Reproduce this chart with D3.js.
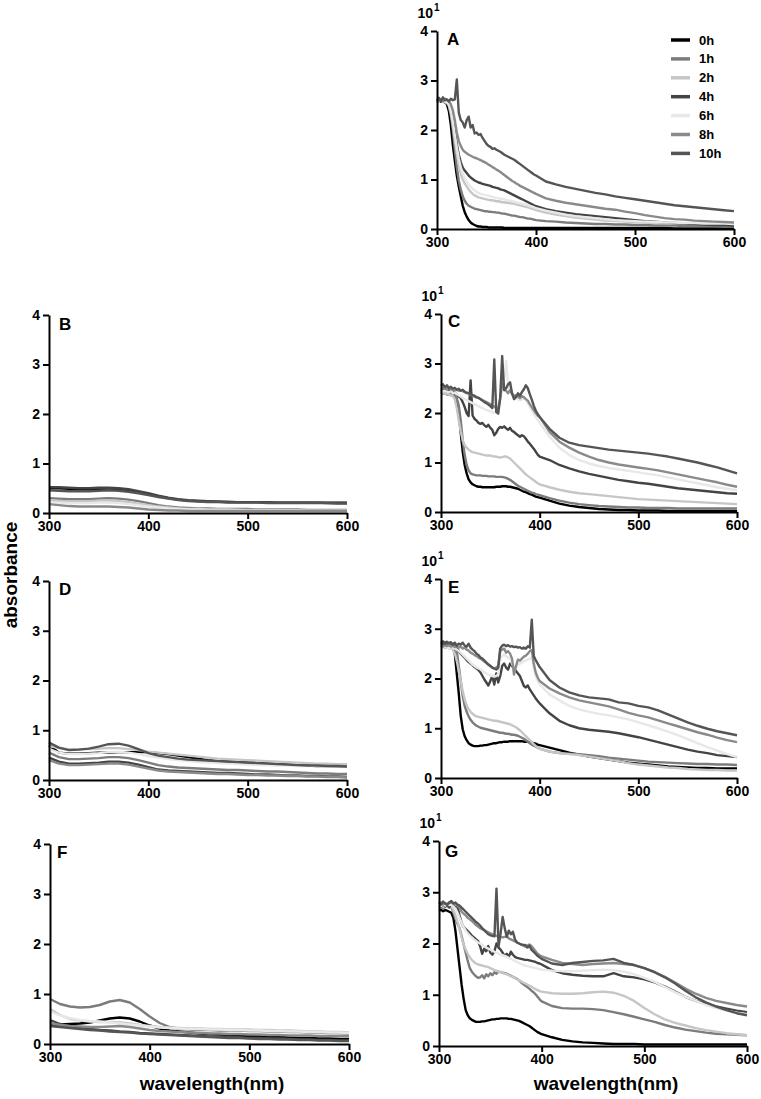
<!DOCTYPE html>
<html>
<head>
<meta charset="utf-8">
<script src="https://cdn.jsdelivr.net/npm/d3@7"></script>
<style>
  html, body { margin: 0; padding: 0; background: #fff; }
  svg { display: block; }
  text { font-family: "Liberation Sans", Arial, sans-serif; font-weight: bold; fill: #000; }
</style>
</head>
<body>
<svg id="chart" width="761" height="1099"></svg>
<script>
// ---------------- DATA ----------------
const seriesNames = ["0h", "1h", "2h", "4h", "6h", "8h", "10h"];
const xTicks = [300, 400, 500, 600];
const yTicks = [0, 1, 2, 3, 4];
const exponentLabel = "10";
const exponentSup = "1";
const xAxisTitle = "wavelength(nm)";
const yAxisTitle = "absorbance";

// wavelength grid for the noisy panels (A, C, E, G)
const waveFine = [
300,302,304,306,308,310,312,314,316,318,
320,322,324,326,328,330,332,334,336,338,
340,342,344,346,348,350,352,354,356,358,
360,362,364,366,368,370,372,374,376,378,
380,382,384,386,388,390,392,394,396,398,
400,
410,420,430,440,450,460,470,480,490,500,
510,520,530,540,550,560,570,580,590,600];

// wavelength grid for the smooth panels (B, D, F)
const waveCoarse = [300,310,320,330,340,350,360,370,380,390,400,410,420,430,440,450,
460,470,480,490,500,510,520,530,540,550,560,570,580,590,600];

// ---- Panel A (x10) ----
const A_0h = [
2.58,2.60,2.57,2.59,2.56,2.52,2.38,2.10,1.70,1.38,
1.08,0.86,0.66,0.47,0.34,0.25,0.18,0.13,0.10,0.08,
0.06,0.05,0.05,0.04,0.04,0.04,0.03,0.03,0.03,0.03,
0.03,0.03,0.03,0.03,0.02,0.02,0.02,0.02,0.02,0.02,
0.02,0.02,0.02,0.02,0.02,0.02,0.02,0.02,0.02,0.02,
0.02,
0.02,0.02,0.02,0.02,0.02,0.02,0.02,0.02,0.02,0.02,
0.02,0.02,0.02,0.01,0.01,0.01,0.01,0.01,0.01,0.01];
const A_1h = [
2.57,2.62,2.58,2.60,2.55,2.55,2.48,2.30,2.00,1.62,
1.25,0.98,0.80,0.66,0.57,0.51,0.47,0.45,0.43,0.41,
0.40,0.39,0.38,0.37,0.36,0.36,0.35,0.35,0.34,0.34,
0.33,0.33,0.32,0.31,0.31,0.30,0.29,0.28,0.27,0.27,
0.26,0.25,0.24,0.24,0.23,0.22,0.21,0.21,0.20,0.19,
0.18,
0.16,0.15,0.13,0.12,0.11,0.10,0.10,0.09,0.09,0.08,
0.08,0.07,0.07,0.07,0.06,0.06,0.06,0.06,0.05,0.05];
const A_2h = [
2.60,2.58,2.61,2.57,2.58,2.55,2.50,2.35,2.10,1.80,
1.52,1.30,1.12,1.00,0.92,0.86,0.80,0.75,0.71,0.68,
0.66,0.64,0.63,0.62,0.61,0.60,0.59,0.58,0.58,0.57,
0.56,0.56,0.55,0.54,0.54,0.53,0.53,0.52,0.52,0.51,
0.50,0.49,0.48,0.47,0.46,0.45,0.44,0.42,0.41,0.40,
0.38,
0.33,0.29,0.26,0.23,0.21,0.19,0.17,0.16,0.15,0.14,
0.13,0.12,0.12,0.11,0.11,0.10,0.10,0.10,0.09,0.09];
const A_4h = [
2.58,2.62,2.60,2.63,2.59,2.58,2.55,2.48,2.30,2.00,
1.72,1.50,1.35,1.24,1.18,1.13,1.08,1.04,1.01,0.98,
0.96,0.94,0.93,0.91,0.90,0.89,0.88,0.87,0.85,0.84,
0.83,0.82,0.80,0.79,0.78,0.76,0.74,0.72,0.70,0.68,
0.66,0.64,0.62,0.60,0.58,0.56,0.54,0.52,0.50,0.48,
0.46,
0.40,0.36,0.33,0.30,0.28,0.26,0.24,0.22,0.20,0.18,
0.16,0.15,0.13,0.12,0.11,0.10,0.09,0.08,0.08,0.07];
const A_6h = [
2.62,2.59,2.60,2.62,2.57,2.56,2.52,2.40,2.18,1.90,
1.65,1.42,1.25,1.12,1.03,0.96,0.90,0.85,0.81,0.78,
0.75,0.73,0.71,0.70,0.69,0.68,0.67,0.66,0.65,0.64,
0.63,0.62,0.61,0.61,0.60,0.59,0.58,0.57,0.56,0.55,
0.54,0.53,0.52,0.51,0.50,0.49,0.48,0.46,0.45,0.44,
0.42,
0.37,0.33,0.29,0.26,0.24,0.22,0.20,0.18,0.17,0.16,
0.15,0.14,0.13,0.13,0.12,0.12,0.11,0.11,0.11,0.10];
const A_8h = [
2.55,2.60,2.62,2.58,2.63,2.60,2.58,2.52,2.40,2.20,
1.95,1.78,1.68,1.60,1.56,1.53,1.50,1.48,1.46,1.44,
1.43,1.41,1.39,1.37,1.35,1.33,1.30,1.28,1.25,1.23,
1.20,1.18,1.15,1.12,1.09,1.06,1.03,1.00,0.97,0.95,
0.92,0.90,0.87,0.85,0.83,0.81,0.79,0.77,0.75,0.73,
0.71,
0.62,0.57,0.53,0.50,0.47,0.44,0.41,0.39,0.35,0.32,
0.28,0.25,0.22,0.20,0.19,0.17,0.16,0.15,0.14,0.13];
const A_10h = [
2.60,2.65,2.58,2.66,2.60,2.62,2.58,2.63,2.60,2.62,
3.02,2.35,2.20,2.15,2.05,2.20,2.27,2.05,2.10,1.93,
1.95,1.90,1.92,1.84,1.78,1.72,1.68,1.66,1.62,1.63,
1.60,1.58,1.56,1.53,1.50,1.48,1.46,1.44,1.42,1.40,
1.37,1.34,1.31,1.28,1.25,1.22,1.19,1.16,1.13,1.10,
1.08,
0.96,0.90,0.85,0.81,0.77,0.73,0.70,0.66,0.63,0.60,
0.57,0.54,0.51,0.48,0.46,0.44,0.42,0.40,0.38,0.36];

// ---- Panel C (x10) ----
const C_0h = [
2.42,2.40,2.39,2.38,2.37,2.36,2.35,2.33,2.25,2.00,
1.60,1.22,0.95,0.78,0.66,0.60,0.56,0.54,0.52,0.51,
0.51,0.50,0.50,0.50,0.50,0.50,0.50,0.50,0.51,0.51,
0.51,0.52,0.52,0.52,0.51,0.51,0.50,0.49,0.48,0.47,
0.45,0.43,0.41,0.40,0.38,0.36,0.35,0.33,0.31,0.30,
0.29,
0.23,0.17,0.13,0.10,0.08,0.06,0.05,0.04,0.04,0.03,
0.03,0.03,0.02,0.02,0.02,0.02,0.02,0.02,0.02,0.02];
const C_1h = [
2.45,2.43,2.42,2.44,2.40,2.41,2.38,2.36,2.30,2.15,
1.85,1.45,1.15,0.95,0.84,0.78,0.76,0.75,0.74,0.74,
0.74,0.73,0.73,0.73,0.72,0.72,0.72,0.72,0.71,0.71,
0.71,0.71,0.70,0.69,0.67,0.65,0.62,0.59,0.56,0.53,
0.51,0.49,0.47,0.45,0.43,0.41,0.39,0.38,0.36,0.35,
0.34,
0.28,0.23,0.19,0.16,0.14,0.12,0.11,0.10,0.09,0.09,
0.08,0.08,0.08,0.07,0.07,0.07,0.07,0.07,0.07,0.07];
const C_2h = [
2.40,2.42,2.38,2.40,2.37,2.36,2.34,2.28,2.10,1.85,
1.62,1.45,1.35,1.30,1.26,1.23,1.21,1.20,1.19,1.18,
1.17,1.16,1.15,1.14,1.14,1.14,1.13,1.12,1.12,1.11,
1.10,1.11,1.12,1.12,1.10,1.08,1.04,1.00,0.96,0.92,
0.88,0.84,0.80,0.76,0.73,0.70,0.67,0.64,0.61,0.58,
0.56,
0.50,0.45,0.41,0.38,0.36,0.34,0.32,0.30,0.28,0.26,
0.25,0.24,0.23,0.22,0.21,0.20,0.19,0.18,0.17,0.16];
const C_4h = [
2.48,2.45,2.47,2.44,2.46,2.43,2.44,2.40,2.38,2.33,
2.30,2.22,2.12,2.00,1.94,2.66,1.95,1.88,1.85,1.80,
1.78,1.80,1.75,1.72,1.76,1.70,1.66,1.55,1.60,1.68,
1.72,1.70,1.73,1.69,1.66,1.70,1.64,1.62,1.58,1.55,
1.52,1.55,1.53,1.48,1.42,1.38,1.33,1.28,1.22,1.16,
1.12,
1.05,0.95,0.88,0.82,0.77,0.73,0.69,0.65,0.62,0.59,
0.57,0.54,0.51,0.48,0.46,0.44,0.42,0.40,0.38,0.37];
const C_6h = [
2.46,2.44,2.45,2.43,2.42,2.44,2.40,2.41,2.38,2.36,
2.33,2.30,2.28,2.26,2.24,2.22,2.20,2.18,2.16,2.14,
2.12,2.10,2.08,2.06,2.05,2.03,2.02,2.00,2.05,2.10,
2.30,2.50,2.70,3.05,2.55,2.45,2.40,2.35,2.30,2.28,
2.25,2.28,2.30,2.26,2.20,2.12,2.05,1.98,1.92,1.86,
1.80,
1.52,1.30,1.15,1.05,0.98,0.93,0.89,0.86,0.83,0.80,
0.77,0.74,0.70,0.66,0.62,0.58,0.54,0.50,0.47,0.44];
const C_8h = [
2.52,2.50,2.53,2.49,2.51,2.48,2.47,2.46,2.47,2.45,
2.46,2.44,2.42,2.40,2.39,2.37,2.35,2.33,2.31,2.30,
2.28,2.26,2.24,2.22,2.20,2.18,2.15,2.13,2.10,2.08,
2.30,2.60,2.48,2.45,2.40,2.46,2.38,2.34,2.36,2.33,
2.30,2.34,2.32,2.28,2.25,2.18,2.12,2.06,2.00,1.95,
1.92,
1.62,1.42,1.30,1.20,1.12,1.05,1.00,0.96,0.93,0.90,
0.87,0.84,0.80,0.76,0.72,0.68,0.64,0.60,0.55,0.51];
const C_10h = [
2.55,2.58,2.52,2.56,2.50,2.53,2.49,2.51,2.47,2.49,
2.45,2.47,2.43,2.41,2.40,2.38,2.36,2.35,2.32,2.31,
2.28,2.25,2.22,2.20,2.17,2.14,2.10,3.08,2.02,1.99,
2.30,3.15,2.46,2.50,2.58,2.62,2.40,2.28,2.32,2.40,
2.35,2.42,2.48,2.56,2.50,2.38,2.27,2.15,2.05,1.98,
1.92,
1.68,1.50,1.40,1.35,1.32,1.29,1.26,1.24,1.22,1.20,
1.18,1.15,1.12,1.08,1.04,1.00,0.95,0.90,0.84,0.78];

// ---- Panel E (x10) ----
const E_0h = [
2.72,2.70,2.72,2.68,2.71,2.69,2.66,2.50,2.10,1.70,
1.25,0.98,0.84,0.76,0.70,0.67,0.65,0.64,0.64,0.64,
0.65,0.65,0.66,0.66,0.67,0.68,0.69,0.70,0.70,0.71,
0.72,0.72,0.73,0.73,0.73,0.74,0.74,0.74,0.74,0.74,
0.74,0.74,0.73,0.73,0.73,0.72,0.71,0.70,0.69,0.67,
0.66,
0.61,0.56,0.51,0.47,0.43,0.40,0.37,0.34,0.31,0.29,
0.27,0.25,0.23,0.22,0.21,0.20,0.20,0.19,0.19,0.19];
const E_1h = [
2.65,2.68,2.66,2.69,2.64,2.67,2.65,2.62,2.55,2.25,
1.95,1.65,1.45,1.33,1.24,1.17,1.12,1.08,1.05,1.03,
1.01,1.00,0.99,0.98,0.97,0.96,0.95,0.94,0.93,0.92,
0.91,0.91,0.90,0.89,0.89,0.88,0.87,0.87,0.86,0.85,
0.83,0.81,0.79,0.76,0.73,0.70,0.67,0.65,0.63,0.61,
0.59,
0.53,0.50,0.49,0.48,0.46,0.44,0.41,0.39,0.37,0.35,
0.33,0.32,0.31,0.30,0.29,0.28,0.28,0.27,0.27,0.26];
const E_2h = [
2.62,2.64,2.61,2.63,2.60,2.62,2.58,2.50,2.35,2.15,
1.95,1.75,1.58,1.46,1.38,1.33,1.29,1.26,1.24,1.23,
1.22,1.21,1.20,1.19,1.18,1.17,1.16,1.15,1.15,1.14,
1.13,1.12,1.11,1.10,1.09,1.08,1.06,1.04,1.02,0.99,
0.96,0.92,0.88,0.84,0.80,0.76,0.72,0.68,0.64,0.61,
0.59,
0.53,0.50,0.48,0.46,0.43,0.40,0.37,0.34,0.30,0.27,
0.25,0.23,0.21,0.20,0.18,0.17,0.16,0.16,0.15,0.15];
const E_4h = [
2.72,2.70,2.73,2.69,2.71,2.68,2.70,2.66,2.62,2.55,
2.50,2.46,2.42,2.37,2.33,2.30,2.27,2.23,2.20,2.17,
2.12,2.05,1.98,1.92,1.86,1.95,2.05,1.88,2.10,1.92,
2.05,2.25,2.30,2.22,2.18,2.30,2.25,2.20,2.15,2.10,
2.05,1.95,1.85,1.82,1.86,1.78,1.72,1.66,1.60,1.55,
1.50,
1.30,1.15,1.06,1.00,0.97,0.95,0.93,0.90,0.86,0.82,
0.77,0.72,0.67,0.62,0.57,0.53,0.50,0.46,0.44,0.42];
const E_6h = [
2.64,2.62,2.65,2.63,2.61,2.64,2.62,2.60,2.58,2.55,
2.52,2.48,2.44,2.40,2.36,2.32,2.28,2.25,2.22,2.20,
2.18,2.15,2.12,2.10,2.08,2.06,2.05,2.04,2.05,2.08,
2.40,2.45,2.48,2.45,2.42,2.40,2.30,2.20,2.22,2.28,
2.30,2.32,2.35,2.36,2.38,2.40,2.42,2.20,2.05,1.95,
1.88,
1.68,1.56,1.45,1.38,1.33,1.29,1.26,1.22,1.18,1.12,
1.06,1.00,0.93,0.86,0.78,0.70,0.62,0.55,0.48,0.42];
const E_8h = [
2.66,2.64,2.67,2.65,2.68,2.64,2.66,2.63,2.65,2.62,
2.64,2.60,2.62,2.58,2.56,2.52,2.50,2.47,2.45,2.42,
2.40,2.37,2.34,2.31,2.28,2.25,2.22,2.20,2.22,2.25,
2.55,2.58,2.60,2.52,2.55,2.50,2.40,2.08,2.25,2.38,
2.36,2.40,2.44,2.46,2.50,2.55,2.57,2.30,2.12,2.02,
1.95,
1.80,1.70,1.62,1.56,1.52,1.48,1.44,1.38,1.31,1.26,
1.22,1.16,1.10,1.04,0.98,0.92,0.87,0.81,0.76,0.72];
const E_10h = [
2.72,2.75,2.70,2.74,2.71,2.73,2.68,2.72,2.66,2.70,
2.68,2.72,2.66,2.64,2.70,2.62,2.58,2.55,2.50,2.47,
2.42,2.40,2.36,2.32,2.28,2.25,2.22,2.20,2.18,2.22,
2.60,2.66,2.68,2.65,2.67,2.64,2.65,2.63,2.64,2.62,
2.63,2.60,2.62,2.60,2.65,2.62,3.18,2.45,2.37,2.30,
2.23,
1.97,1.82,1.72,1.66,1.62,1.60,1.58,1.52,1.50,1.45,
1.42,1.36,1.28,1.20,1.12,1.05,0.99,0.94,0.90,0.86];

// ---- Panel G (x10) ----
const G_0h = [
2.64,2.66,2.63,2.65,2.64,2.62,2.60,2.50,2.25,1.90,
1.55,1.20,0.92,0.70,0.60,0.54,0.51,0.49,0.47,0.47,
0.47,0.48,0.48,0.49,0.50,0.51,0.52,0.52,0.53,0.53,
0.54,0.54,0.54,0.54,0.53,0.53,0.52,0.51,0.50,0.49,
0.47,0.45,0.43,0.41,0.39,0.36,0.33,0.30,0.27,0.25,
0.23,
0.17,0.12,0.09,0.07,0.06,0.05,0.04,0.04,0.04,0.03,
0.03,0.03,0.03,0.03,0.03,0.03,0.03,0.03,0.03,0.03];
const G_1h = [
2.70,2.72,2.68,2.71,2.74,2.70,2.72,2.60,2.48,2.38,
2.30,2.15,1.98,1.82,1.66,1.52,1.45,1.40,1.36,1.33,
1.34,1.38,1.32,1.40,1.36,1.42,1.38,1.44,1.41,1.45,
1.44,1.43,1.42,1.41,1.39,1.37,1.35,1.33,1.31,1.28,
1.24,1.21,1.18,1.15,1.12,1.08,1.05,1.01,0.96,0.91,
0.87,
0.78,0.74,0.73,0.73,0.72,0.70,0.66,0.62,0.57,0.52,
0.47,0.41,0.36,0.32,0.29,0.26,0.24,0.23,0.22,0.21];
const G_2h = [
2.72,2.74,2.71,2.75,2.73,2.72,2.74,2.65,2.55,2.42,
2.28,2.12,1.98,1.88,1.80,1.73,1.68,1.64,1.61,1.59,
1.58,1.57,1.56,1.55,1.54,1.52,1.50,1.48,1.47,1.45,
1.44,1.43,1.41,1.40,1.38,1.36,1.35,1.33,1.30,1.28,
1.26,1.24,1.22,1.20,1.18,1.16,1.13,1.11,1.09,1.07,
1.06,
1.03,1.02,1.02,1.03,1.05,1.06,1.04,0.98,0.88,0.74,
0.62,0.52,0.45,0.40,0.35,0.31,0.28,0.25,0.23,0.21];
const G_4h = [
2.74,2.72,2.76,2.73,2.75,2.71,2.78,2.74,2.70,2.72,
2.55,2.40,2.32,2.28,2.24,2.20,2.15,2.12,2.08,2.05,
1.95,1.80,1.90,1.85,1.95,1.82,1.78,1.85,2.00,1.92,
1.88,1.82,1.76,1.80,1.74,1.84,1.78,1.74,1.72,1.71,
1.70,1.69,1.68,1.68,1.67,1.66,1.65,1.64,1.62,1.61,
1.59,
1.48,1.42,1.39,1.37,1.36,1.36,1.42,1.36,1.34,1.30,
1.24,1.16,1.06,0.96,0.88,0.82,0.77,0.73,0.69,0.66];
const G_6h = [
2.76,2.73,2.77,2.74,2.78,2.75,2.76,2.72,2.68,2.60,
2.50,2.40,2.32,2.25,2.20,2.15,2.12,2.08,2.05,2.02,
2.00,1.97,1.95,1.92,1.90,1.88,1.86,1.84,1.82,1.80,
1.78,1.77,1.76,1.74,1.72,1.70,1.68,1.66,1.64,1.62,
1.60,1.58,1.57,1.56,1.55,1.54,1.53,1.52,1.51,1.50,
1.49,
1.47,1.46,1.46,1.47,1.48,1.49,1.48,1.45,1.40,1.33,
1.25,1.15,1.05,0.96,0.88,0.80,0.74,0.69,0.65,0.62];
const G_8h = [
2.78,2.80,2.76,2.79,2.77,2.80,2.82,2.78,2.76,2.74,
2.70,2.62,2.58,2.55,2.50,2.47,2.44,2.40,2.36,2.33,
2.30,2.28,2.26,2.24,2.22,2.20,2.18,2.16,2.15,2.14,
2.13,2.12,2.13,2.14,2.10,2.08,2.06,2.04,2.02,2.00,
1.98,1.96,1.94,1.96,1.98,1.95,1.90,1.85,1.80,1.77,
1.75,
1.68,1.62,1.60,1.58,1.60,1.61,1.62,1.60,1.58,1.52,
1.44,1.35,1.24,1.12,1.02,0.94,0.88,0.84,0.80,0.77];
const G_10h = [
2.80,2.76,2.82,2.78,2.75,2.80,2.83,2.78,2.80,2.76,
2.74,2.70,2.66,2.62,2.58,2.54,2.50,2.46,2.42,2.39,
2.35,2.30,2.26,2.22,2.18,2.16,2.15,2.14,3.07,1.94,
2.20,2.52,2.30,2.13,2.25,2.18,2.23,2.08,2.02,2.00,
1.98,1.97,1.97,1.92,1.96,1.88,1.84,1.80,1.76,1.73,
1.70,
1.61,1.58,1.62,1.64,1.66,1.67,1.70,1.62,1.58,1.52,
1.44,1.34,1.22,1.08,0.95,0.85,0.77,0.70,0.64,0.60];

// ---- Panel B ----
const B_0h  = [0.50,0.50,0.49,0.48,0.48,0.49,0.49,0.48,0.46,0.42,0.38,0.34,0.30,0.27,0.25,0.24,0.23,0.23,0.22,0.22,0.22,0.22,0.21,0.21,0.21,0.21,0.21,0.21,0.21,0.21,0.21];
const B_1h  = [0.30,0.29,0.28,0.28,0.28,0.29,0.30,0.29,0.27,0.24,0.20,0.16,0.13,0.11,0.10,0.09,0.09,0.08,0.08,0.08,0.08,0.07,0.07,0.07,0.07,0.07,0.06,0.06,0.06,0.06,0.06];
const B_2h  = [0.25,0.24,0.24,0.24,0.24,0.25,0.25,0.24,0.22,0.19,0.16,0.13,0.11,0.09,0.08,0.08,0.07,0.07,0.07,0.06,0.06,0.06,0.06,0.06,0.05,0.05,0.05,0.05,0.05,0.05,0.05];
const B_4h  = [0.52,0.52,0.51,0.50,0.50,0.51,0.51,0.50,0.48,0.44,0.40,0.35,0.31,0.28,0.26,0.25,0.24,0.23,0.23,0.22,0.22,0.22,0.22,0.21,0.21,0.21,0.21,0.21,0.20,0.20,0.20];
const B_6h  = [0.22,0.21,0.20,0.20,0.20,0.21,0.21,0.20,0.18,0.16,0.13,0.11,0.09,0.08,0.07,0.07,0.06,0.06,0.06,0.06,0.05,0.05,0.05,0.05,0.05,0.05,0.04,0.04,0.04,0.04,0.04];
const B_8h  = [0.18,0.16,0.14,0.13,0.13,0.13,0.13,0.12,0.11,0.09,0.07,0.06,0.05,0.05,0.04,0.04,0.04,0.04,0.04,0.04,0.04,0.04,0.04,0.04,0.04,0.04,0.04,0.04,0.04,0.04,0.04];
const B_10h = [0.46,0.45,0.44,0.44,0.44,0.45,0.46,0.45,0.43,0.40,0.36,0.32,0.29,0.26,0.24,0.23,0.22,0.22,0.21,0.21,0.21,0.21,0.20,0.20,0.20,0.20,0.20,0.20,0.20,0.19,0.19];

// ---- Panel D ----
const D_0h  = [0.70,0.55,0.53,0.53,0.54,0.55,0.55,0.56,0.56,0.56,0.56,0.54,0.52,0.49,0.46,0.43,0.40,0.38,0.37,0.36,0.35,0.34,0.33,0.32,0.31,0.30,0.29,0.28,0.28,0.27,0.27];
const D_1h  = [0.55,0.46,0.42,0.42,0.43,0.44,0.46,0.46,0.44,0.40,0.35,0.30,0.27,0.25,0.24,0.23,0.22,0.21,0.20,0.20,0.19,0.18,0.17,0.17,0.16,0.15,0.14,0.13,0.13,0.12,0.12];
const D_2h  = [0.68,0.64,0.62,0.62,0.62,0.63,0.64,0.64,0.62,0.60,0.57,0.55,0.53,0.51,0.49,0.47,0.45,0.43,0.42,0.41,0.40,0.39,0.38,0.37,0.36,0.35,0.34,0.33,0.33,0.32,0.32];
const D_4h  = [0.45,0.37,0.33,0.33,0.34,0.35,0.37,0.37,0.35,0.31,0.26,0.21,0.19,0.18,0.17,0.16,0.15,0.14,0.14,0.13,0.12,0.11,0.11,0.10,0.09,0.09,0.08,0.08,0.07,0.07,0.06];
const D_6h  = [0.62,0.55,0.52,0.52,0.53,0.54,0.56,0.57,0.55,0.52,0.48,0.45,0.42,0.40,0.38,0.36,0.35,0.34,0.33,0.32,0.31,0.30,0.30,0.29,0.29,0.28,0.28,0.28,0.27,0.27,0.27];
const D_8h  = [0.40,0.33,0.30,0.30,0.31,0.32,0.33,0.33,0.31,0.27,0.23,0.19,0.17,0.16,0.15,0.14,0.13,0.12,0.12,0.11,0.10,0.10,0.09,0.09,0.08,0.08,0.07,0.07,0.06,0.06,0.05];
const D_10h = [0.75,0.65,0.60,0.61,0.63,0.67,0.72,0.73,0.69,0.62,0.54,0.49,0.46,0.43,0.41,0.40,0.39,0.38,0.37,0.36,0.35,0.34,0.33,0.32,0.31,0.30,0.29,0.29,0.28,0.28,0.27];

// ---- Panel F ----
const F_0h  = [0.38,0.39,0.40,0.41,0.43,0.47,0.51,0.53,0.51,0.45,0.37,0.31,0.27,0.25,0.23,0.21,0.20,0.19,0.18,0.17,0.16,0.15,0.14,0.14,0.13,0.12,0.12,0.11,0.11,0.10,0.10];
const F_1h  = [0.90,0.80,0.75,0.73,0.74,0.78,0.85,0.88,0.83,0.70,0.55,0.42,0.34,0.30,0.29,0.28,0.28,0.27,0.27,0.27,0.26,0.26,0.25,0.25,0.24,0.24,0.23,0.23,0.22,0.22,0.21];
const F_2h  = [0.70,0.58,0.50,0.47,0.45,0.44,0.44,0.43,0.41,0.38,0.36,0.34,0.33,0.32,0.31,0.31,0.30,0.30,0.29,0.29,0.29,0.28,0.28,0.27,0.27,0.26,0.25,0.25,0.24,0.24,0.23];
const F_4h  = [0.48,0.40,0.35,0.32,0.30,0.28,0.27,0.25,0.24,0.22,0.21,0.20,0.19,0.18,0.17,0.16,0.15,0.15,0.14,0.13,0.12,0.12,0.11,0.11,0.10,0.09,0.09,0.08,0.08,0.07,0.07];
const F_6h  = [0.65,0.57,0.52,0.48,0.46,0.45,0.43,0.41,0.39,0.37,0.35,0.33,0.32,0.31,0.30,0.30,0.29,0.29,0.28,0.28,0.27,0.27,0.26,0.26,0.25,0.25,0.24,0.24,0.23,0.23,0.22];
const F_8h  = [0.42,0.38,0.36,0.35,0.34,0.34,0.35,0.36,0.34,0.31,0.28,0.26,0.25,0.24,0.23,0.22,0.21,0.21,0.20,0.20,0.19,0.19,0.18,0.18,0.17,0.17,0.17,0.16,0.16,0.16,0.16];
const F_10h = [0.36,0.34,0.32,0.30,0.28,0.27,0.25,0.24,0.23,0.21,0.20,0.19,0.18,0.17,0.16,0.15,0.14,0.13,0.12,0.12,0.11,0.10,0.10,0.09,0.09,0.08,0.08,0.07,0.07,0.06,0.06];

// ---------------- STYLE / LAYOUT ----------------
const seriesColors = ["#000000", "#7c7c7c", "#c6c6c6", "#444444", "#e8e8e8", "#8a8a8a", "#555555"];

const panels = [
  { key: "A", wave: waveFine,   series: [A_0h, A_1h, A_2h, A_4h, A_6h, A_8h, A_10h], box: [437, 734, 31, 229],  exp: true,  legend: true, lx: 10, ly: 14 },
  { key: "B", wave: waveCoarse, series: [B_0h, B_1h, B_2h, B_4h, B_6h, B_8h, B_10h], box: [49, 347, 315, 513],  exp: false, lx: 10, ly: 15 },
  { key: "C", wave: waveFine,   series: [C_0h, C_1h, C_2h, C_4h, C_6h, C_8h, C_10h], box: [441, 737, 314, 512], exp: true,  lx: 7,  ly: 13 },
  { key: "D", wave: waveCoarse, series: [D_0h, D_1h, D_2h, D_4h, D_6h, D_8h, D_10h], box: [49, 347, 581, 780],  exp: false, lx: 10, ly: 14 },
  { key: "E", wave: waveFine,   series: [E_0h, E_1h, E_2h, E_4h, E_6h, E_8h, E_10h], box: [441, 737, 579, 778], exp: true,  lx: 7,  ly: 14 },
  { key: "F", wave: waveCoarse, series: [F_0h, F_1h, F_2h, F_4h, F_6h, F_8h, F_10h], box: [50, 349, 844, 1044], exp: false, lx: 7,  ly: 14 },
  { key: "G", wave: waveFine,   series: [G_0h, G_1h, G_2h, G_4h, G_6h, G_8h, G_10h], box: [439, 747, 841, 1046], exp: true, lx: 6,  ly: 16 }
];

const svg = d3.select("#chart");
svg.append("rect").attr("width", 761).attr("height", 1099).attr("fill", "#fff");

panels.forEach(p => {
  const [x0, x1, y0, y1] = p.box;
  const x = d3.scaleLinear().domain([300, 600]).range([x0, x1]);
  const y = d3.scaleLinear().domain([0, 4]).range([y1, y0]);
  const g = svg.append("g").attr("class", "panel-" + p.key);

  const line = d3.line()
    .x((d, i) => x(p.wave[i]))
    .y(d => y(d));

  p.series.forEach((s, si) => {
    g.append("path")
      .datum(s)
      .attr("d", line)
      .attr("fill", "none")
      .attr("stroke", seriesColors[si])
      .attr("stroke-width", 2.4)
      .attr("stroke-linejoin", "round");
  });

  const xAxis = d3.axisBottom(x).tickValues(xTicks).tickSize(6).tickSizeOuter(0).tickPadding(2).tickFormat(d3.format("d"));
  const yAxis = d3.axisLeft(y).tickValues(yTicks).tickSize(6).tickSizeOuter(0).tickPadding(3).tickFormat(d3.format("d"));

  const gx = g.append("g").attr("transform", `translate(0,${y1})`).call(xAxis);
  const gy = g.append("g").attr("transform", `translate(${x0},0)`).call(yAxis);
  [gx, gy].forEach(ax => {
    ax.select(".domain").attr("stroke", "#000").attr("stroke-width", 2);
    ax.selectAll(".tick line").attr("stroke", "#000").attr("stroke-width", 2);
    ax.selectAll(".tick text")
      .attr("fill", "#000")
      .style("font-size", "14px")
      .style("font-weight", "bold")
      .style("font-family", "'Liberation Sans', Arial, sans-serif");
  });

  // panel letter
  g.append("text")
    .attr("x", x0 + p.lx)
    .attr("y", y0 + p.ly)
    .style("font-size", "17px")
    .text(p.key);

  // exponent label 10^1
  if (p.exp) {
    g.append("text")
      .attr("x", x0 - 4)
      .attr("y", y0 - 13)
      .attr("text-anchor", "end")
      .style("font-size", "14px")
      .text(exponentLabel);
    g.append("text")
      .attr("x", x0 - 3)
      .attr("y", y0 - 20)
      .style("font-size", "10px")
      .text(exponentSup);
  }

  // legend
  if (p.legend) {
    const lg = g.append("g");
    seriesNames.forEach((name, i) => {
      const yy = 40 + i * 18.9;
      lg.append("line")
        .attr("x1", 671).attr("x2", 690)
        .attr("y1", yy).attr("y2", yy)
        .attr("stroke", seriesColors[i])
        .attr("stroke-width", 3.5);
      lg.append("text")
        .attr("x", 699)
        .attr("y", yy)
        .attr("dy", "0.35em")
        .style("font-size", "13px")
        .text(name);
    });
  }
});

// axis titles
svg.append("text")
  .attr("transform", "translate(17,575) rotate(-90)")
  .attr("text-anchor", "middle")
  .style("font-size", "19px")
  .text(yAxisTitle);

svg.append("text")
  .attr("x", 212).attr("y", 1090)
  .attr("text-anchor", "middle")
  .style("font-size", "19px")
  .text(xAxisTitle);

svg.append("text")
  .attr("x", 606).attr("y", 1090)
  .attr("text-anchor", "middle")
  .style("font-size", "19px")
  .text(xAxisTitle);
</script>
</body>
</html>
